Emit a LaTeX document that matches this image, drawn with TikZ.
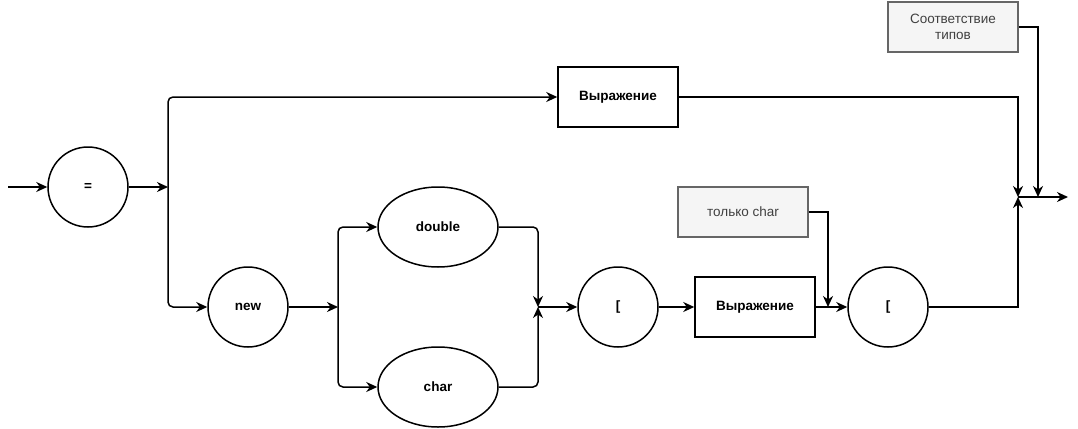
\documentclass[tikz,border=0pt]{standalone}
\usepackage{fontspec}
\setmainfont{Liberation Sans}
\usetikzlibrary{arrows.meta,shapes.geometric}
\definecolor{notefill}{HTML}{F5F5F5}
\definecolor{notedraw}{HTML}{666666}
\tikzset{
    vertex/.style={circle,draw,line width=1.5pt,minimum size=80pt,inner sep=0pt,font=\bfseries\fontsize{13.5}{16}\selectfont},
    term/.style={ellipse,draw,line width=1.5pt,minimum width=120pt,minimum height=80pt,inner sep=0pt,font=\bfseries\fontsize{13.5}{16}\selectfont},
    block/.style={rectangle,draw,line width=1.5pt,minimum width=120pt,minimum height=60pt,font=\bfseries\fontsize{13.5}{16}\selectfont},
    note/.style={rectangle,draw=notedraw,fill=notefill,line width=1.5pt,minimum width=130pt,minimum height=50pt,align=center,text=black!75,font=\fontsize{13.5}{16}\selectfont},
    dedge/.style={-{Stealth[length=11pt,width=10pt,inset=3.5pt]},line width=1.5pt},
}

\begin{document}
\begin{tikzpicture}[x=1pt,y=-1pt]
\useasboundingbox (0,0) rectangle (1078,428);
% nodes
\node[vertex] (eq) at (88,187) {=};
\node[block] (expr1) at (618,97) {Выражение};
\node[vertex] (new) at (248,307) {new};
\node[term] (dbl) at (438,227) {double};
\node[term] (chr) at (438,387) {char};
\node[vertex] (lbr) at (618,307) {[};
\node[block] (expr2) at (755,307) {Выражение};
\node[vertex] (rbr) at (888,307) {[};
\node[note] (note1) at (743,212) {только char};
\node[note] (note2) at (953,27) {Соответствие\\типов};
% junctions
\coordinate (start) at (8,187);
\coordinate (j1) at (168,187);
\coordinate (j2) at (338,307);
\coordinate (j3) at (538,307);
\coordinate (j4) at (828,307);
\coordinate (j5) at (1018,197);
\coordinate (j6) at (1038,197);
\coordinate (end) at (1068,197);
% edges
\draw[dedge] (start) -- (eq);
\draw[dedge] (eq) -- (j1);
\draw[dedge,rounded corners=5pt] (j1) |- (expr1);
\draw[dedge,rounded corners=5pt] (j1) |- (new);
\draw[dedge] (new) -- (j2);
\draw[dedge,rounded corners=5pt] (j2) |- (dbl);
\draw[dedge,rounded corners=5pt] (j2) |- (chr);
\draw[dedge,rounded corners=5pt] (dbl) -| (j3);
\draw[dedge,rounded corners=5pt] (chr) -| (j3);
\draw[dedge] (j3) -- (lbr);
\draw[dedge] (lbr) -- (expr2);
\draw[dedge] (expr2) -- (rbr);
\draw[dedge] (note1) -| (j4);
\draw[dedge] (expr1) -| (j5);
\draw[dedge] (rbr) -| (j5);
\draw[dedge] (note2) -| (j6);
\draw[dedge] (j5) -- (end);
\end{tikzpicture}
\end{document}
